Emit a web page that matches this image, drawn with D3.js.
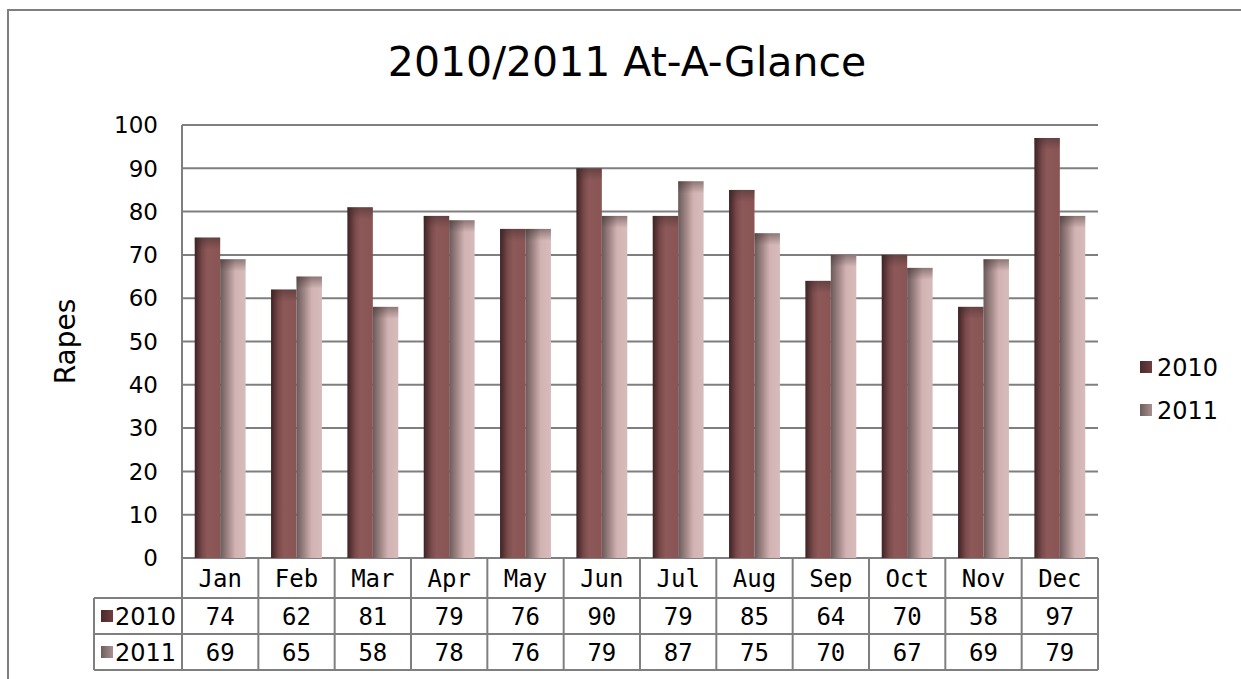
<!DOCTYPE html>
<html>
<head>
<meta charset="UTF-8">
<title>2010/2011 At-A-Glance</title>
<script src="https://d3js.org/d3.v7.min.js"></script>
<style>
  body { margin: 0; background: #fff; }
  svg { display: block; }
</style>
</head>
<body>
<svg width="1241" height="679"></svg>
<script>
// data
const months = ["Jan", "Feb", "Mar", "Apr", "May", "Jun", "Jul", "Aug", "Sep", "Oct", "Nov", "Dec"];
const seriesNames = ["2010", "2011"];
const values2010 = [74, 62, 81, 79, 76, 90, 79, 85, 64, 70, 58, 97];
const values2011 = [69, 65, 58, 78, 76, 79, 87, 75, 70, 67, 69, 79];
const yTicks = [0, 10, 20, 30, 40, 50, 60, 70, 80, 90, 100];

const svg = d3.select("svg");
const sansFont = "'DejaVu Sans', 'Open Sans', sans-serif";
const monoFont = "'DejaVu Sans Mono', 'Liberation Mono', monospace";
const lineCol = "#7f7f7f";

const plot = { left: 182, right: 1098, top: 125, bottom: 558 };
const rowH = [40, 36, 36];

const x = d3.scaleBand().domain(months).range([plot.left, plot.right]);
const xs = d3.scaleBand().domain(seriesNames).range([0, x.bandwidth()]).paddingOuter(0.5);
const y = d3.scaleLinear().domain([0, 100]).range([plot.bottom, plot.top]);

const rows = months.map((m, i) => ({ month: m, "2010": values2010[i], "2011": values2011[i] }));

// gradients
const defs = svg.append("defs");
function hGrad(id, stops) {
  const g = defs.append("linearGradient").attr("id", id)
    .attr("x1", 0).attr("x2", 1).attr("y1", 0).attr("y2", 0);
  stops.forEach(s => g.append("stop").attr("offset", s[0]).attr("stop-color", s[1]));
}
hGrad("g2010", [[0, "#3e2223"], [0.3, "#7a4a4b"], [0.5, "#8c5858"], [1, "#8a5454"]]);
hGrad("g2011", [[0, "#6a5a5a"], [0.35, "#a88c8c"], [0.6, "#d2b3b3"], [1, "#d7bbbb"]]);
hGrad("s2010", [[0, "#4a2a2b"], [1, "#6e3e3f"]]);
hGrad("s2011", [[0, "#6e5e5e"], [1, "#a89090"]]);
const topFade = defs.append("linearGradient").attr("id", "topFade")
  .attr("x1", 0).attr("x2", 0).attr("y1", 0).attr("y2", 1);
topFade.append("stop").attr("offset", 0).attr("stop-color", "#3a2a2a").attr("stop-opacity", 0.45);
topFade.append("stop").attr("offset", 1).attr("stop-color", "#3a2a2a").attr("stop-opacity", 0);

// outer frame
svg.append("path")
  .attr("d", "M8,679 L8,10 L1241,10")
  .attr("fill", "none").attr("stroke", lineCol).attr("stroke-width", 2);

// title
svg.append("text")
  .attr("x", 627).attr("y", 76)
  .attr("text-anchor", "middle")
  .attr("font-family", sansFont).attr("font-size", 41)
  .text("2010/2011 At-A-Glance");

// gridlines
svg.append("g").selectAll("line").data(yTicks).join("line")
  .attr("x1", plot.left).attr("x2", plot.right)
  .attr("y1", d => y(d)).attr("y2", d => y(d))
  .attr("stroke", lineCol).attr("stroke-width", 2);

// y tick labels
svg.append("g").selectAll("text").data(yTicks).join("text")
  .attr("x", 158).attr("y", d => y(d))
  .attr("dy", "0.36em")
  .attr("text-anchor", "end")
  .attr("font-family", sansFont).attr("font-size", 23)
  .text(d => d);

// y axis title
svg.append("text")
  .attr("transform", "translate(75," + ((plot.top + plot.bottom) / 2) + ") rotate(-90)")
  .attr("text-anchor", "middle")
  .attr("font-family", sansFont).attr("font-size", 28)
  .text("Rapes");

// bars
const groups = svg.append("g").selectAll("g").data(rows).join("g")
  .attr("transform", d => "translate(" + x(d.month) + ",0)");
seriesNames.forEach(s => {
  groups.append("rect")
    .attr("x", xs(s)).attr("width", xs.bandwidth())
    .attr("y", d => y(d[s])).attr("height", d => plot.bottom - y(d[s]))
    .attr("fill", "url(#g" + s + ")");
  groups.append("rect")
    .attr("x", xs(s)).attr("width", xs.bandwidth())
    .attr("y", d => y(d[s])).attr("height", 12)
    .attr("fill", "url(#topFade)");
});

// left axis line (continues into the table)
const tableBottom = plot.bottom + rowH[0] + rowH[1] + rowH[2];
svg.append("line")
  .attr("x1", plot.left).attr("x2", plot.left)
  .attr("y1", plot.top).attr("y2", tableBottom)
  .attr("stroke", lineCol).attr("stroke-width", 2);

// data table
const tableLeft = 94;
const rowY = [plot.bottom, plot.bottom + rowH[0], plot.bottom + rowH[0] + rowH[1], tableBottom];
const table = svg.append("g");
[rowY[1], rowY[2], rowY[3]].forEach(yy => {
  table.append("line").attr("x1", tableLeft).attr("x2", plot.right)
    .attr("y1", yy).attr("y2", yy).attr("stroke", lineCol).attr("stroke-width", 2);
});
table.append("line").attr("x1", tableLeft).attr("x2", tableLeft)
  .attr("y1", rowY[1]).attr("y2", rowY[3]).attr("stroke", lineCol).attr("stroke-width", 2);
table.selectAll("line.col").data(months).join("line").attr("class", "col")
  .attr("x1", d => x(d) + x.bandwidth()).attr("x2", d => x(d) + x.bandwidth())
  .attr("y1", rowY[0]).attr("y2", rowY[3])
  .attr("stroke", lineCol).attr("stroke-width", 2);

// header cells
table.selectAll("text.hdr").data(months).join("text").attr("class", "hdr")
  .attr("x", d => x(d) + x.bandwidth() / 2)
  .attr("y", (rowY[0] + rowY[1]) / 2).attr("dy", "0.36em")
  .attr("text-anchor", "middle")
  .attr("font-family", monoFont).attr("font-size", 24)
  .text(d => d);

// value rows
seriesNames.forEach((s, si) => {
  const cy = (rowY[si + 1] + rowY[si + 2]) / 2;
  table.selectAll("text.v" + s).data(rows).join("text").attr("class", "v" + s)
    .attr("x", d => x(d.month) + x.bandwidth() / 2)
    .attr("y", cy).attr("dy", "0.36em")
    .attr("text-anchor", "middle")
    .attr("font-family", monoFont).attr("font-size", 24)
    .text(d => d[s]);
  table.append("rect")
    .attr("x", 101).attr("y", cy - 6).attr("width", 12).attr("height", 12)
    .attr("fill", "url(#s" + s + ")");
  table.append("text")
    .attr("x", 115).attr("y", cy).attr("dy", "0.36em")
    .attr("font-family", sansFont).attr("font-size", 24)
    .text(s);
});

// legend
const legend = svg.append("g").selectAll("g").data(seriesNames).join("g")
  .attr("transform", (d, i) => "translate(1140," + (367 + i * 43) + ")");
legend.append("rect")
  .attr("x", 0).attr("y", -6).attr("width", 12).attr("height", 12)
  .attr("fill", d => "url(#s" + d + ")");
legend.append("text")
  .attr("x", 17).attr("dy", "0.36em")
  .attr("font-family", sansFont).attr("font-size", 24)
  .text(d => d);
</script>
</body>
</html>
